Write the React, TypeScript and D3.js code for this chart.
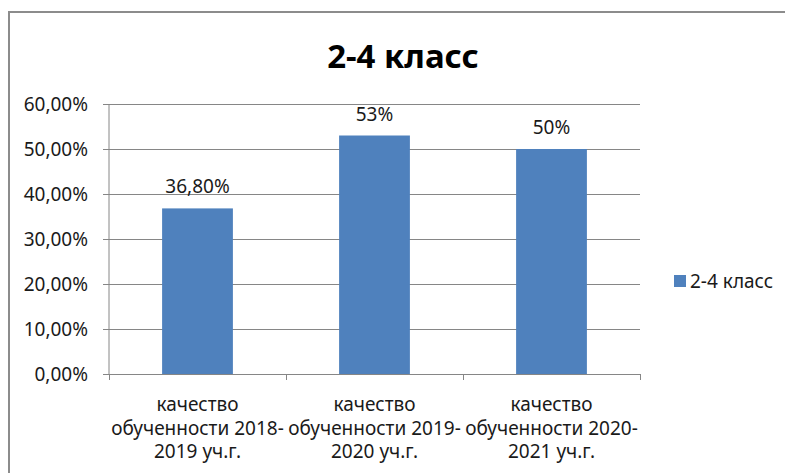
import { useEffect, useRef } from 'react';
import * as d3 from 'd3';

const title = '2-4 класс';
const seriesName = '2-4 класс';
const categories = [
  ['качество', 'обученности 2018-', '2019 уч.г.'],
  ['качество', 'обученности 2019-', '2020 уч.г.'],
  ['качество', 'обученности 2020-', '2021 уч.г.'],
];
const values = [0.368, 0.53, 0.5];
const valueLabels = ['36,80%', '53%', '50%'];
const yTicks = [0, 0.1, 0.2, 0.3, 0.4, 0.5, 0.6];

export default function App() {
  const ref = useRef<SVGSVGElement>(null);

  useEffect(() => {
    if (!ref.current) return;
    const svg = d3.select(ref.current);
    svg.selectAll('*').remove();

    const W = 785;
    const H = 473;
    const font = '"Noto Sans", "Liberation Sans", sans-serif';
    const fs = '19px';
    const textColor = '#1a1a1a';
    const lineColor = '#868686';

    // Chart frame (right and bottom run off the picture)
    svg.append('rect')
      .attr('x', 9)
      .attr('y', 12)
      .attr('width', W + 20)
      .attr('height', H + 20)
      .attr('fill', 'white')
      .attr('stroke', '#8c8c8c')
      .attr('stroke-width', 2);

    // Title
    svg.append('text')
      .attr('x', 403)
      .attr('y', 68)
      .attr('text-anchor', 'middle')
      .style('font-family', font)
      .style('font-weight', 700)
      .style('font-size', '33px')
      .style('fill', '#000')
      .text(title);

    const plot = { left: 109, right: 640, top: 104, bottom: 374 };

    const x = d3.scaleBand<number>()
      .domain(values.map((_, i) => i))
      .range([plot.left, plot.right])
      .paddingInner(0.6)
      .paddingOuter(0.3);

    const y = d3.scaleLinear()
      .domain([0, 0.6])
      .range([plot.bottom, plot.top]);

    // y ticks
    const yAxis = svg.append('g')
      .attr('transform', `translate(${plot.left},0)`)
      .call(d3.axisLeft(y)
        .tickValues(yTicks)
        .tickSize(6)
        .tickFormat(d => d3.format('.2f')(+d * 100).replace('.', ',') + '%'))
      .call(g => g.select('.domain').attr('stroke', lineColor).attr('d', `M0,${plot.top}V${plot.bottom}`));
    yAxis.selectAll('.tick line').attr('stroke', lineColor);
    yAxis.selectAll('.tick text')
      .attr('x', -21)
      .style('font-family', font)
      .style('font-size', fs)
      .style('fill', textColor);

    // Gridlines
    svg.append('g')
      .selectAll('line')
      .data(yTicks.filter(t => t > 0))
      .join('line')
      .attr('x1', plot.left)
      .attr('x2', plot.right)
      .attr('y1', d => Math.round(y(d)) + 0.5)
      .attr('y2', d => Math.round(y(d)) + 0.5)
      .attr('stroke', lineColor);

    // Bars
    svg.append('g')
      .selectAll('rect')
      .data(values)
      .join('rect')
      .attr('x', (_, i) => x(i)!)
      .attr('width', x.bandwidth())
      .attr('y', d => y(d))
      .attr('height', d => y(0) - y(d))
      .attr('fill', '#4F81BD');

    // Value labels
    svg.append('g')
      .selectAll('text')
      .data(values)
      .join('text')
      .attr('x', (_, i) => x(i)! + x.bandwidth() / 2)
      .attr('y', d => y(d) - 15)
      .attr('text-anchor', 'middle')
      .style('font-family', font)
      .style('font-size', fs)
      .style('fill', textColor)
      .text((_, i) => valueLabels[i]);

    // X axis
    const step = (plot.right - plot.left) / values.length;
    svg.append('line')
      .attr('x1', plot.left)
      .attr('x2', plot.right)
      .attr('y1', plot.bottom + 0.5)
      .attr('y2', plot.bottom + 0.5)
      .attr('stroke', lineColor);
    svg.append('g')
      .selectAll('line')
      .data(d3.range(values.length + 1))
      .join('line')
      .attr('x1', d => plot.left + d * step + 0.5)
      .attr('x2', d => plot.left + d * step + 0.5)
      .attr('y1', plot.bottom)
      .attr('y2', plot.bottom + 6)
      .attr('stroke', lineColor);

    const cat = svg.append('g')
      .selectAll('text')
      .data(categories)
      .join('text')
      .attr('text-anchor', 'middle')
      .style('font-family', font)
      .style('font-size', fs)
      .style('fill', textColor);
    cat.each(function (lines, i) {
      const t = d3.select(this);
      lines.forEach((ln, j) => {
        t.append('tspan')
          .attr('x', x(i)! + x.bandwidth() / 2)
          .attr('y', 411 + j * 23.5)
          .text(ln);
      });
    });

    // Legend
    svg.append('rect')
      .attr('x', 674)
      .attr('y', 275)
      .attr('width', 12)
      .attr('height', 12)
      .attr('fill', '#4F81BD');
    svg.append('text')
      .attr('x', 690)
      .attr('y', 288)
      .style('font-family', font)
      .style('font-size', fs)
      .style('fill', textColor)
      .text(seriesName);
  }, []);

  return (
    <div style={{ position: 'absolute', left: 0, top: 0 }}>
      <svg ref={ref} width={785} height={473} style={{ display: 'block' }} />
    </div>
  );
}
